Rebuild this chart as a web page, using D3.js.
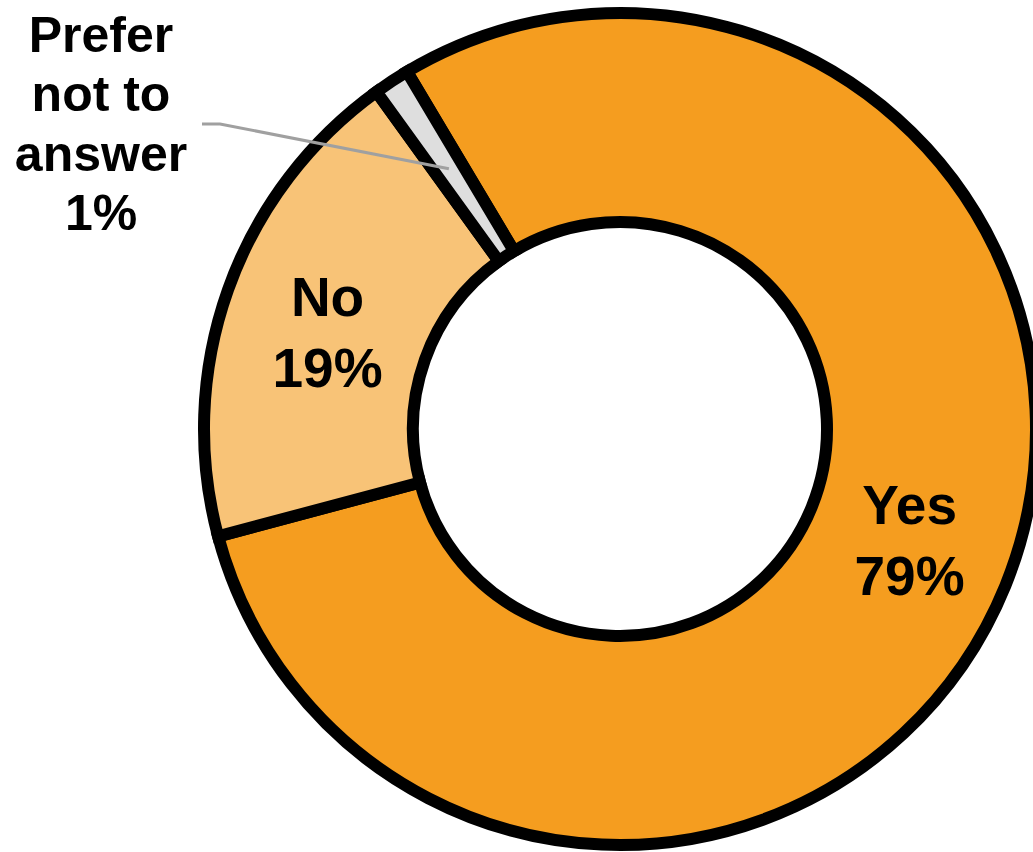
<!DOCTYPE html>
<html>
<head>
<meta charset="utf-8">
<script src="https://cdn.jsdelivr.net/npm/d3@7"></script>
<style>
  html, body { margin: 0; padding: 0; background: #fff; }
  svg { display: block; }
  text { font-family: "Liberation Sans", Arial, sans-serif; font-weight: bold; fill: #000; }
</style>
</head>
<body>
<svg id="chart" width="1033" height="852"></svg>
<script>
// data
var categories = ["Yes", "No", "Prefer not to answer"];
var values = [79.4, 19.2, 1.4];
var labels = [["Yes", "79%"], ["No", "19%"], ["Prefer", "not to", "answer", "1%"]];
var colors = ["#F59D1F", "#F8C377", "#DEDEDE"];

var svg = d3.select("#chart"),
    cx = 620, cy = 429,
    outer = 416, inner = 207;

var g = svg.append("g").attr("transform", "translate(" + cx + "," + cy + ")");

var start = -30.8 * Math.PI / 180;
var pie = d3.pie().sort(null).value(function(d) { return d; })
    .startAngle(start).endAngle(start + 2 * Math.PI);
var arcs = pie(values);

var arc = d3.arc().innerRadius(inner).outerRadius(outer);
var mid = d3.arc().innerRadius((inner + outer) / 2).outerRadius((inner + outer) / 2);

g.selectAll("path.slice")
    .data(arcs)
    .enter().append("path")
    .attr("class", "slice")
    .attr("d", arc)
    .attr("fill", function(d, i) { return colors[i]; })
    .attr("stroke", "#000")
    .attr("stroke-width", 12)
    .attr("stroke-linejoin", "miter");

// inside labels (Yes, No); small nudge so they sit like the original
var fs = 55, lh = 71;
var nudge = [-22, -9];
arcs.slice(0, 2).forEach(function(d, i) {
    var c = mid.centroid(d);
    var t = g.append("text")
        .attr("text-anchor", "middle")
        .style("font-size", fs + "px");
    labels[i].forEach(function(s, k) {
        t.append("tspan")
            .attr("x", c[0] + 1)
            .attr("y", c[1] + nudge[i] + k * lh)
            .text(s);
    });
});

// outside label for the small slice, with leader line
var p = mid.centroid(arcs[2]);
var lx = 101 - cx, ly = 124 - cy;
g.append("polyline")
    .attr("points", [[lx + 101, ly], [lx + 119, ly], p].map(function(q) { return q.join(","); }).join(" "))
    .attr("fill", "none")
    .attr("stroke", "#A0A0A0")
    .attr("stroke-width", 3);

var t2 = g.append("text")
    .attr("text-anchor", "middle")
    .style("font-size", "50px");
labels[2].forEach(function(s, k) {
    t2.append("tspan")
        .attr("x", lx)
        .attr("y", 52 - cy + k * 59.3)
        .text(s);
});
</script>
</body>
</html>
